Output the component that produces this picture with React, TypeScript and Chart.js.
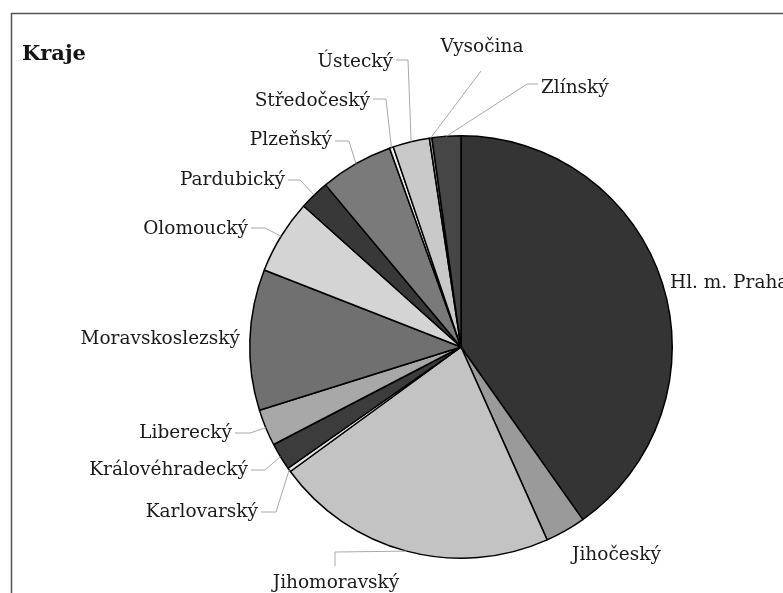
import React, { useEffect, useRef } from "react";
import { Chart, registerables } from "chart.js";

Chart.register(...registerables);

const TITLE = "Kraje";

const regions = [
  "Hl. m. Praha",
  "Jihočeský",
  "Jihomoravský",
  "Karlovarský",
  "Královéhradecký",
  "Liberecký",
  "Moravskoslezský",
  "Olomoucký",
  "Pardubický",
  "Plzeňský",
  "Středočeský",
  "Ústecký",
  "Vysočina",
  "Zlínský",
];

const shares = [40.3, 3.1, 21.7, 0.3, 2.1, 2.8, 10.8, 5.7, 2.3, 5.6, 0.3, 2.8, 0.2, 2.2];

const sliceColors = [
  "#343434",
  "#9a9a9a",
  "#c3c3c3",
  "#e4e4e4",
  "#3c3c3c",
  "#a8a8a8",
  "#707070",
  "#d4d4d4",
  "#383838",
  "#7a7a7a",
  "#ebebeb",
  "#c9c9c9",
  "#9a9a9a",
  "#464646",
];

// label layout, offsets relative to pie centre (px)
type Lay = { dx: number; dy: number; align: CanvasTextAlign; path?: number[][] };
const labelLayout: Lay[] = [
  { dx: 209, dy: -64, align: "left" },
  { dx: 111, dy: 208, align: "left" },
  { dx: -125, dy: 236, align: "center", path: [[-126, 219], [-126, 205]] },
  { dx: -203, dy: 165, align: "right", path: [[-200, 165], [-185, 165]] },
  { dx: -213, dy: 123, align: "right", path: [[-210, 123], [-196, 123]] },
  { dx: -229, dy: 86, align: "right", path: [[-226, 86], [-211, 86]] },
  { dx: -221, dy: -8, align: "right" },
  { dx: -213, dy: -118, align: "right", path: [[-210, -119], [-196, -119]] },
  { dx: -176, dy: -167, align: "right", path: [[-173, -167], [-161, -167]] },
  { dx: -129, dy: -207, align: "right", path: [[-126, -206], [-112, -206]] },
  { dx: -91, dy: -246, align: "right", path: [[-88, -248], [-75, -248]] },
  { dx: -68, dy: -285, align: "right", path: [[-65, -287], [-53, -287]] },
  { dx: 21, dy: -300, align: "center", path: [[20, -276]] },
  { dx: 80, dy: -259, align: "left", path: [[77, -263], [66, -263]] },
];

const LABEL_FONT = '18.5px "DejaVu Serif", serif';

const overlay = {
  id: "overlay",
  afterDraw(chart: any) {
    const ctx = chart.ctx as CanvasRenderingContext2D;
    const meta = chart.getDatasetMeta(0);
    ctx.save();
    // frame
    ctx.strokeStyle = "#555";
    ctx.lineWidth = 1.5;
    ctx.beginPath();
    ctx.moveTo(11.5, 593);
    ctx.lineTo(11.5, 13.5);
    ctx.lineTo(783, 13.5);
    ctx.stroke();
    // title
    ctx.fillStyle = "#141414";
    ctx.font = 'bold 21px "DejaVu Serif", serif';
    ctx.textAlign = "left";
    ctx.textBaseline = "middle";
    ctx.fillText(TITLE, 22, 55);
    // labels
    ctx.font = LABEL_FONT;
    meta.data.forEach((arc: any, i: number) => {
      const lay = labelLayout[i];
      if (!lay) return;
      const cx = arc.x;
      const cy = arc.y;
      const r = arc.outerRadius;
      const mid = (arc.startAngle + arc.endAngle) / 2;
      const ax = cx + Math.cos(mid) * r;
      const ay = cy + Math.sin(mid) * r;
      if (lay.path) {
        ctx.strokeStyle = "#a8a8a8";
        ctx.lineWidth = 1;
        ctx.beginPath();
        lay.path.forEach((p, k) => {
          const x = cx + p[0];
          const y = cy + p[1];
          if (k === 0) ctx.moveTo(x, y);
          else ctx.lineTo(x, y);
        });
        ctx.lineTo(ax, ay);
        ctx.stroke();
      }
      ctx.fillStyle = "#1a1a1a";
      ctx.textAlign = lay.align;
      ctx.textBaseline = "middle";
      ctx.fillText(regions[i], cx + lay.dx, cy + lay.dy);
    });
    ctx.restore();
  },
};

export default function App() {
  const ref = useRef<HTMLCanvasElement | null>(null);
  useEffect(() => {
    if (!ref.current) return;
    const chart = new Chart(ref.current, {
      type: "pie",
      data: {
        labels: regions,
        datasets: [
          {
            data: shares,
            backgroundColor: sliceColors,
            borderColor: "#000",
            borderWidth: 1.5,
          },
        ],
      },
      options: {
        responsive: false,
        animation: false,
        layout: { padding: { left: 249, right: 110, top: 135, bottom: 34 } },
        plugins: {
          legend: { display: false },
          tooltip: { enabled: false },
          title: { display: false },
        },
      },
      plugins: [overlay],
    });
    return () => chart.destroy();
  }, []);
  return (
    <div style={{ position: "absolute", left: 0, top: 0, width: 783, height: 593, background: "#fff" }}>
      <canvas ref={ref} width={783} height={593} style={{ display: "block" }} />
    </div>
  );
}
